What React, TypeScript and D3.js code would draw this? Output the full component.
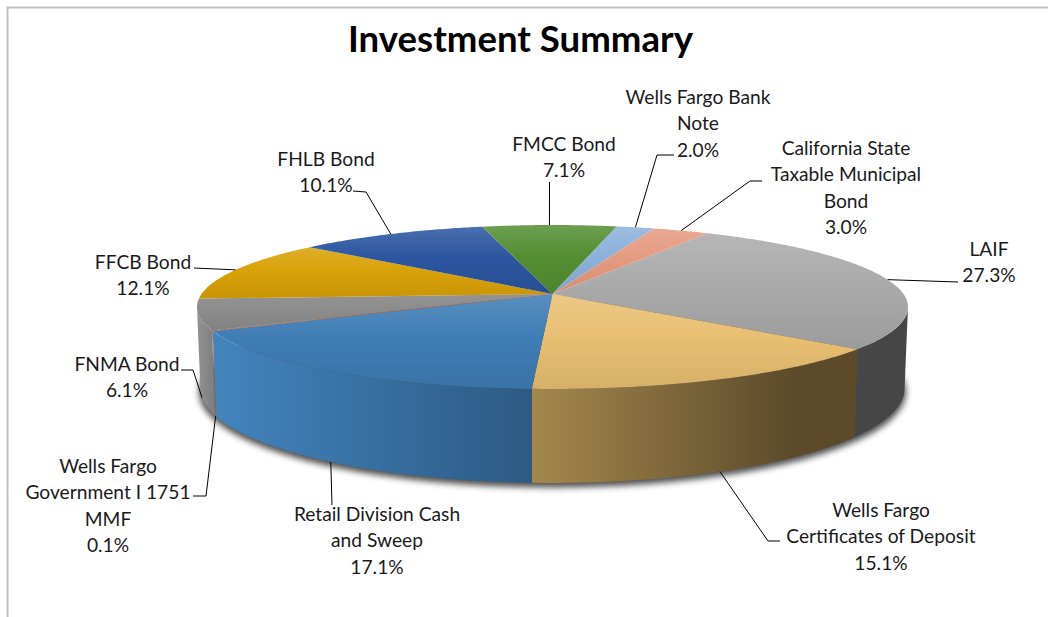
import React from "react";
import * as d3 from "d3";

const categories = ["LAIF","Wells Fargo Certificates of Deposit","Retail Division Cash and Sweep","Wells Fargo Government I 1751 MMF","FNMA Bond","FFCB Bond","FHLB Bond","FMCC Bond","Wells Fargo Bank Note","California State Taxable Municipal Bond"];
const values = [27.3,15.1,17.1,0.1,6.1,12.1,10.1,7.1,2.0,3.0];
const topColors = ["#aaaaaa","#e9bf72","#3f7db5","#b5633c","#8c8c8c","#d9a208","#2c56a0","#548e32","#8db1da","#e59b80"];
const wallStart = ["#484848","#a5884d","#4384bd","#a8623f","#8e8e8e",null,null,null,null,null];
const wallEnd = ["#464646","#5c4a2a","#2c5a84","#a8623f","#7c7c7c",null,null,null,null,null];
const labelLines = [["LAIF","27.3%"],["Wells Fargo","Certificates of Deposit","15.1%"],["Retail Division Cash","and Sweep","17.1%"],["Wells Fargo","Government I 1751","MMF","0.1%"],["FNMA Bond","6.1%"],["FFCB Bond","12.1%"],["FHLB Bond","10.1%"],["FMCC Bond","7.1%"],["Wells Fargo Bank","Note","2.0%"],["California State","Taxable Municipal","Bond","3.0%"]];
const labelCx = [989,881,377,108,127,143,326,564,698,846];
const labelFirstY = [250,511,515,467,365,263,160,145,98,149];
const elbows = [[[958,282]],[[780,541],[768,541]],[[332,505]],[[193,496],[206,496]],[[181,370],[193,370]],[[194,268]],[[353,191],[366,192]],[[549.5,182]],[[674,155],[657,155]],[[762,181],[750,181]]];
const leaderOnBottom = [false,true,true,true,true,false,false,false,false,false];

const FONT = "Lato, Carlito, Calibri, sans-serif";
const K = -0.1585, CX = 552.5;
const project = (a: number, bottom: boolean): [number, number] => {
  const X = Math.sin(a), Y = -Math.cos(a), d = 1 + K * Y;
  return bottom
    ? [CX + 347.6 * X / d, 374 + 91.66 * Y / d]
    : [CX + 351 * X / d, 294 + 79.9 * Y / d];
};
const arcPts = (a0: number, a1: number, bottom: boolean) => {
  const n = Math.max(2, Math.ceil((a1 - a0) / 0.01));
  return d3.range(n + 1).map(i => project(a0 + (a1 - a0) * i / n, bottom));
};
const line = d3.line();
const tint = (c: string, t: number) => d3.interpolateRgb(c, t > 0 ? "#fff" : "#000")(Math.abs(t));

const arcs = d3.pie<number>().sort(null).startAngle(30.2 * Math.PI / 180).endAngle(390.2 * Math.PI / 180)(values);
// Silhouette limits: the angles at which the projected rim reaches its widest x.
const wallMin = Math.acos(K), wallMax = 2 * Math.PI - Math.acos(K);

export default function App() {
  return (
    <svg width={1048} height={617} style={{ position: "absolute", left: 0, top: 0, display: "block", background: "#fff" }} fontFamily={FONT}>
      <defs>
        <filter id="shadow" x="-5%" y="-10%" width="110%" height="120%"><feGaussianBlur stdDeviation={3} /></filter>
        {arcs.map((s, i) => {
          const pts = [[CX, 294] as [number, number], ...arcPts(s.startAngle, s.endAngle, false)];
          const ys = pts.map(p => p[1]);
          return (
            <linearGradient key={i} id={`top${i}`} gradientUnits="userSpaceOnUse" x1={0} x2={0} y1={d3.min(ys)} y2={d3.max(ys)}>
              <stop offset="0" stopColor={tint(topColors[i], i === 4 ? 0.06 : 0.14)} />
              <stop offset="0.45" stopColor={topColors[i]} />
              <stop offset="1" stopColor={tint(topColors[i], -0.08)} />
            </linearGradient>
          );
        })}
        {arcs.map((s, i) => {
          if (!wallStart[i]) return null;
          const xs = arcPts(s.startAngle, s.endAngle, true).map(p => p[0]);
          const left = i === 1 ? 530 : d3.min(xs);
          const right = i === 1 ? 795 : d3.max(xs);
          return (
            <linearGradient key={i} id={`wall${i}`} gradientUnits="userSpaceOnUse" x1={right} x2={left} y1={0} y2={0}>
              <stop offset="0" stopColor={wallEnd[i]!} />
              <stop offset="1" stopColor={wallStart[i]!} />
            </linearGradient>
          );
        })}
      </defs>

      <path d="M7.5 617V7.5H1048" fill="none" stroke="#bfbfbf" strokeWidth={2} />

      <text x={520.5} y={52} textAnchor="middle" fontSize={36.6} fontWeight={700} fill="#000">Investment Summary</text>

      <path d={line(arcPts(0, 2 * Math.PI, true))! + "Z"} transform="translate(0,3)" fill="#333" stroke="#333" strokeWidth={3} opacity={0.85} filter="url(#shadow)" />

      {arcs.map((s, i) => {
        if (!wallStart[i]) return null;
        const a0 = Math.max(s.startAngle, wallMin), a1 = Math.min(s.endAngle, wallMax);
        return <path key={i} d={line([...arcPts(a0, a1, false), ...arcPts(a0, a1, true).reverse()])! + "Z"} fill={`url(#wall${i})`} />;
      })}

      {arcs.map((s, i) => (
        <path key={i} d={line([[CX, 294], ...arcPts(s.startAngle, s.endAngle, false)])! + "Z"} fill={`url(#top${i})`} stroke={values[i] < 1 ? topColors[i] : "none"} strokeWidth={values[i] < 1 ? 0.3 : 0} />
      ))}

      {arcs.map((s, i) => {
        const end = project((s.startAngle + s.endAngle) / 2, leaderOnBottom[i]);
        return <path key={i} d={line([...(elbows[i] as [number, number][]), end])!} fill="none" stroke="#000" strokeWidth={1} />;
      })}

      {labelLines.map((ls, i) => (
        <text key={i} textAnchor="middle" fontSize={19.2} fill="#1a1a1a">
          {ls.map((t, j) => <tspan key={j} x={labelCx[i]} y={labelFirstY[i] + 6 + j * 26.4}>{t}</tspan>)}
        </text>
      ))}
    </svg>
  );
}
